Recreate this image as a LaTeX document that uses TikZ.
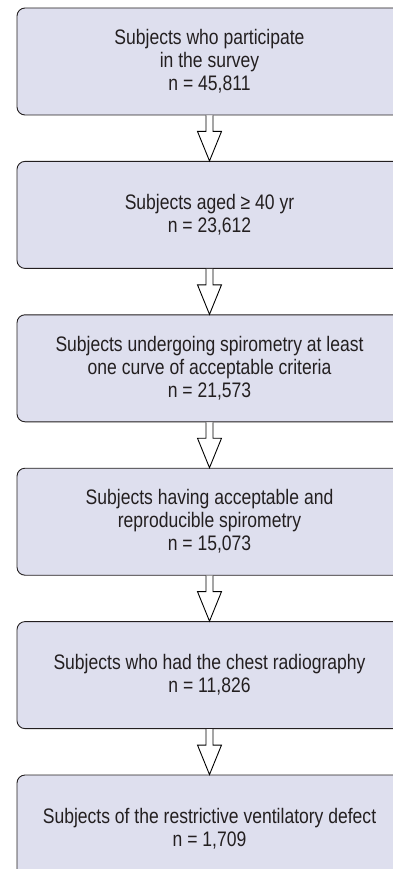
\documentclass[tikz,border=0pt]{standalone}
\usepackage{fontspec}
\setmainfont{Liberation Sans}[FakeStretch=0.835]
\usetikzlibrary{positioning,calc}

\definecolor{boxfill}{RGB}{222,223,238}
\definecolor{inkgray}{RGB}{35,31,32}

\begin{document}
\begin{tikzpicture}[x=1pt,y=1pt,
  stepbox/.style={
    rectangle,
    rounded corners=8pt,
    draw=inkgray,
    line width=0.9pt,
    fill=boxfill,
    text=inkgray,
    align=center,
    font=\fontsize{21}{23}\selectfont,
    minimum width=385pt,
    minimum height=107pt,
    inner sep=0pt
  },
  hollowarrow/.style={
    draw=black,
    line width=0.9pt,
    fill=white,
    line join=miter
  }]
  \useasboundingbox (0,0) rectangle (393,-869);
  \node[stepbox] (survey) at (209.5,-61.5) {Subjects who participate\\in the survey\\n = 45,811};
  \node[stepbox,below=45.5pt of survey] (aged) {Subjects aged ≥ 40 yr\\n = 23,612};
  \node[stepbox,below=45.5pt of aged] (curve) {Subjects undergoing spirometry at least\\one curve of acceptable criteria\\n = 21,573};
  \node[stepbox,below=45.5pt of curve] (repro) {Subjects having acceptable and\\reproducible spirometry\\n = 15,073};
  \node[stepbox,below=45.5pt of repro] (xray) {Subjects who had the chest radiography\\n = 11,826};
  \node[stepbox,below=45.5pt of xray] (restrict) {Subjects of the restrictive ventilatory defect\\n = 1,709};
  % hollow block arrows between the steps
  \foreach \a/\b in {survey/aged,aged/curve,curve/repro,repro/xray,xray/restrict}{
    \draw[hollowarrow] let \p1=(\a.south), \p2=(\b.north) in
      (\x1-3.5pt,\y1) -- (\x1-3.5pt,\y1-16pt) -- (\x1-12pt,\y1-16pt) -- (\x1,\y2)
      -- (\x1+12pt,\y1-16pt) -- (\x1+3.5pt,\y1-16pt) -- (\x1+3.5pt,\y1);
  }
\end{tikzpicture}
\end{document}
